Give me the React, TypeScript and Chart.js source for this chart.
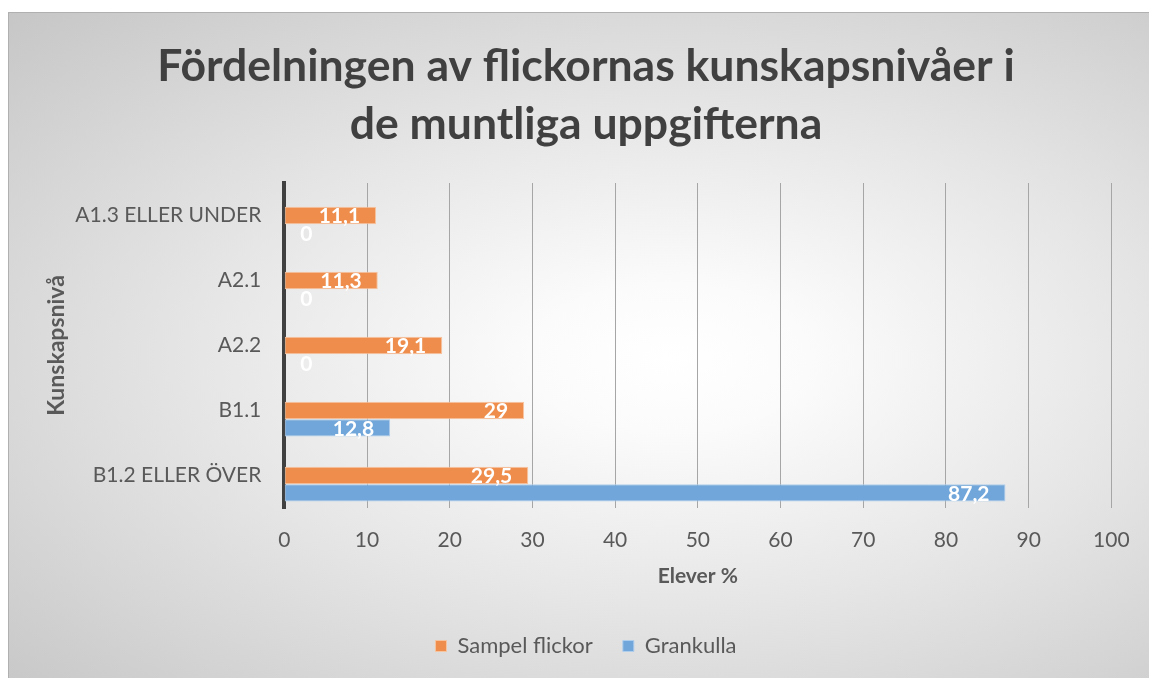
import React, { useEffect, useRef } from "react";
import { Chart, registerables } from "chart.js";

Chart.register(...registerables);

const titleLines = ["Fördelningen av flickornas kunskapsnivåer i", "de muntliga uppgifterna"];
const categories = ["A1.3 ELLER UNDER", "A2.1", "A2.2", "B1.1", "B1.2 ELLER ÖVER"];
const seriesNames = ["Sampel flickor", "Grankulla"];
const sampelFlickor = [11.1, 11.3, 19.1, 29, 29.5];
const grankulla = [0, 0, 0, 12.8, 87.2];
// empty series slot above each pair (the source chart reserves it)
const emptySlot = [null, null, null, null, null];
const xTickValues = [0, 10, 20, 30, 40, 50, 60, 70, 80, 90, 100];
const xAxisTitle = "Elever %";
const yAxisTitle = "Kunskapsnivå";

const FONT = "Lato, 'Open Sans', sans-serif";
const TEXT = "#595959";

const fmt = (v: number) => String(v).replace(".", ",");

const dataLabels = {
  id: "dataLabels",
  afterDatasetsDraw(chart: any) {
    const ctx = chart.ctx;
    ctx.save();
    ctx.font = `bold 21px ${FONT}`;
    ctx.fillStyle = "#ffffff";
    ctx.textBaseline = "middle";
    chart.data.datasets.forEach((ds: any, i: number) => {
      if (!ds.showLabels) return;
      const meta = chart.getDatasetMeta(i);
      meta.data.forEach((el: any, j: number) => {
        const v = ds.data[j];
        if (v === null || v === undefined) return;
        if (v === 0) {
          ctx.textAlign = "left";
          ctx.fillText(fmt(v), el.base + 16, el.y + 1);
        } else {
          ctx.textAlign = "right";
          ctx.fillText(fmt(v), el.x - 16, el.y + 1);
        }
      });
    });
    ctx.restore();
  },
};

export default function App() {
  const ref = useRef<HTMLCanvasElement | null>(null);

  useEffect(() => {
    if (!ref.current) return;
    const chart = new Chart(ref.current, {
      type: "bar",
      data: {
        labels: categories,
        datasets: [
          {
            label: "",
            data: emptySlot as any,
            backgroundColor: "rgba(0,0,0,0)",
            borderWidth: 0,
          },
          {
            label: seriesNames[0],
            data: sampelFlickor,
            backgroundColor: "rgb(238,141,76)",
            borderColor: "rgb(247,196,160)",
            borderWidth: 1,
            borderSkipped: false,
            showLabels: true,
          } as any,
          {
            label: seriesNames[1],
            data: grankulla,
            backgroundColor: "rgb(112,166,218)",
            borderColor: "rgb(175,205,236)",
            borderWidth: 1,
            borderSkipped: false,
            showLabels: true,
          } as any,
        ],
      },
      options: {
        indexAxis: "y",
        animation: false,
        responsive: true,
        maintainAspectRatio: false,
        categoryPercentage: 0.8,
        barPercentage: 1,
        layout: { padding: { left: 50, right: 35, top: 0, bottom: 11 } },
        plugins: {
          title: {
            display: true,
            text: titleLines,
            color: "#404040",
            font: { family: FONT, size: 44.5, weight: "bold", lineHeight: 58 / 44.5 },
            padding: { top: 26, bottom: 29 },
          },
          legend: {
            display: true,
            position: "bottom",
            labels: {
              filter: (item: any) => item.datasetIndex !== 0,
              color: TEXT,
              font: { family: FONT, size: 22 },
              boxWidth: 11,
              boxHeight: 11,
              padding: 30,
            },
          },
          tooltip: { enabled: false },
        },
        scales: {
          x: {
            type: "linear",
            min: 0,
            max: 100,
            afterBuildTicks: (scale: any) => {
              scale.ticks = xTickValues.map((v) => ({ value: v }));
            },
            afterFit: (scale: any) => {
              scale.height = 97;
            },
            grid: {
              display: true,
              drawTicks: false,
              color: (c: any) => (c.tick && c.tick.value === 0 ? "rgba(0,0,0,0)" : "#a6a6a6"),
              lineWidth: 1,
            },
            border: { display: false },
            ticks: {
              color: TEXT,
              font: { family: FONT, size: 21 },
              padding: 19.4,
            },
            title: {
              display: true,
              text: xAxisTitle,
              color: TEXT,
              font: { family: FONT, size: 21, weight: "bold" },
              padding: { top: 0, bottom: 15.9 },
            },
          },
          y: {
            type: "category",
            offset: true,
            afterFit: (scale: any) => {
              scale.width = 226.3;
            },
            grid: { display: false, drawTicks: false },
            border: { display: true, color: "#404040", width: 4 },
            ticks: {
              color: TEXT,
              font: { family: FONT, size: 21 },
              padding: 23,
            },
            title: {
              display: true,
              text: yAxisTitle,
              color: TEXT,
              font: { family: FONT, size: 23, weight: "bold", lineHeight: 1.2 },
              padding: { top: -14.8, bottom: 0 },
            },
          },
        },
      } as any,
      plugins: [dataLabels],
    });
    return () => chart.destroy();
  }, []);

  return (
    <div
      style={{
        position: "fixed",
        left: 8,
        top: 12,
        width: 1141,
        height: 666,
        background:
          "radial-gradient(ellipse farthest-corner at 58% 52%, #ffffff 0%, #fbfbfb 15%, #e6e6e6 50%, #c6c6c6 100%)",
        boxShadow: "inset 1px 1px 0 #b0b0b0",
      }}
    >
      <canvas ref={ref} />
    </div>
  );
}
